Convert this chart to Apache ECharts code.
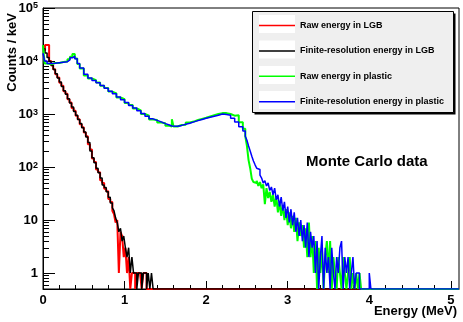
<!DOCTYPE html>
<html>
<head>
<meta charset="utf-8">
<script src="https://cdn.jsdelivr.net/npm/echarts@6/dist/echarts.min.js"></script>
<style>
  html, body { margin: 0; padding: 0; background: #fff; }
  #chart { width: 463px; height: 322px; }
</style>
</head>
<body>
<div id="chart"></div>
<script>
// ---- data: bin low edges (MeV) and counts / keV ----
const X_MAX = 5.1;
const Y_MIN = 0.5;
const Y_MAX = 100000;

function binEdges(start, width, n) {
  const out = [];
  for (let i = 0; i < n; i++) out.push(+(start + i * width).toFixed(3));
  return out;
}

// LGB: 0.025 MeV bins up to 0.85, then 0.02 MeV bins in the tail
const lgbBlackBody = [17000, 14100, 11700, 9800, 8300, 6900, 5750, 4800, 4000, 3300,
  2750, 2350, 1950, 1620, 1350, 1120, 950, 790, 660, 550,
  460, 370, 290, 200, 150, 120, 95, 78, 62, 46,
  41, 34, 27, 21, 17];
const lgbBlackTail = [15, 11, 9, 6, 7, 4, 5, 3, 2, 3,
  1, 2, 1, 1, 0, 1, 1, 0, 1, 1,
  0, 1, 0, 1, 0, 0, 0, 0];
const lgbRedBody = [16000, 20000, 20000, 10000, 8200, 7000, 5600, 4900, 3900, 3400,
  2700, 2400, 1900, 1650, 1300, 1150, 930, 800, 640, 560,
  450, 380, 270, 215, 145, 125, 90, 80, 56, 50,
  39, 35, 25, 22, 15];
const lgbRedTail = [13, 9, 10, 1, 6, 5, 2, 3, 1, 2,
  0, 1, 1, 0, 1, 1, 1, 0, 1, 1,
  0, 0, 0, 0, 0, 0, 0, 0];
const lgbEdges = binEdges(0, 0.025, lgbBlackBody.length)
  .concat(binEdges(0.87, 0.02, lgbBlackTail.length));

// plastic: uneven bins in the body, 0.02 MeV bins from 2.60 on
const plasticBodyEdges = [0, 0.02, 0.05, 0.10, 0.15, 0.20, 0.25, 0.30, 0.33, 0.36,
  0.39, 0.42, 0.45, 0.50, 0.55, 0.60, 0.65, 0.70, 0.75, 0.80,
  0.85, 0.90, 0.95, 1.00, 1.05, 1.10, 1.15, 1.20, 1.25, 1.30,
  1.35, 1.40, 1.45, 1.50, 1.55, 1.58, 1.60, 1.65, 1.70, 1.75,
  1.80, 1.85, 1.90, 1.95, 2.00, 2.05, 2.10, 2.15, 2.20, 2.25,
  2.30, 2.35, 2.40, 2.45, 2.48, 2.50, 2.52, 2.54, 2.56, 2.58];
const blueBody = [14000, 10000, 9000, 9100, 9300, 9500, 9700, 10500, 11500, 12300,
  11000, 9000, 7400, 5600, 4800, 4300, 3900, 3450, 3050, 2700,
  2400, 2100, 1850, 1650, 1450, 1300, 1150, 1020, 910, 810,
  760, 710, 660, 620, 595, 590, 590, 610, 640, 670,
  710, 750, 790, 830, 870, 910, 950, 1000, 980, 950,
  830, 710, 575, 480, 380, 320, 250, 200, 160, 130];
const greenBody = [20000, 9000, 8700, 9200, 9200, 9600, 9800, 10800, 12000, 13500,
  11200, 8800, 7200, 5300, 4700, 4350, 3950, 3400, 3100, 2650,
  2450, 2050, 1900, 1620, 1480, 1270, 1170, 1000, 930, 790,
  770, 690, 670, 600, 580, 800, 580, 620, 630, 690,
  720, 770, 810, 850, 900, 950, 1000, 1040, 1040, 1000,
  930, 950, 700, 530, 380, 250, 135, 95, 60, 52];
const blueTail = [110, 95, 90, 70, 62, 50, 55, 44, 50, 36,
  42, 30, 40, 24, 30, 18, 27, 15, 22, 11,
  18, 9, 16, 8, 14, 6, 11, 5, 10, 4,
  8, 3, 9, 2, 6, 3, 5, 1, 4, 0,
  2, 5, 0, 3, 1, 2, 0, 3, 1, 0,
  2, 1, 3, 4, 0, 2, 1, 2, 0, 1,
  2, 0, 1, 1, 0, 0, 0, 0, 0, 0,
  1, 0, 0, 0, 0, 0];
const greenTail = [50, 55, 44, 52, 40, 47, 20, 40, 26, 34,
  22, 30, 18, 28, 14, 22, 12, 19, 10, 16,
  8, 14, 7, 12, 6, 11, 4, 9, 5, 8,
  3, 7, 2, 9, 2, 5, 1, 4, 0, 3,
  1, 3, 0, 2, 4, 1, 4, 0, 2, 1,
  0, 2, 1, 0, 2, 1, 0, 1, 2, 0,
  1, 0, 1, 0, 1, 0, 0, 0, 0, 0,
  0, 0, 0, 0, 0, 0];
const plasticEdges = plasticBodyEdges.concat(binEdges(2.60, 0.02, blueTail.length));

const legendNames = [
  'Raw energy in LGB',
  'Finite-resolution energy in LGB',
  'Raw energy in plastic',
  'Finite-resolution energy in plastic'
];

const xMajor = [0, 1, 2, 3, 4, 5];
const xMinor = [];
for (let i = 1; i <= 25; i++) if (i % 5 !== 0) xMinor.push(+(i * 0.2).toFixed(1));
const yMajor = [1, 10, 100, 1000, 10000, 100000];
const yMinor = [];
[0.1, 1, 10, 100, 1000, 10000].forEach(d => {
  for (let m = 2; m <= 9; m++) {
    const v = +(m * d).toPrecision(2);
    if (v >= Y_MIN && v <= Y_MAX) yMinor.push(v);
  }
});

// ---- chart ----
const FONT = 'Liberation Sans, Arial, sans-serif';
const chart = echarts.init(document.getElementById('chart'), null, { renderer: 'canvas' });

function histSeries(name, edges, counts, color, width) {
  // empty bins sit on the axis floor, as ROOT draws them on a log scale
  const data = edges.concat([X_MAX]).map((e, i) => {
    const c = i < counts.length ? counts[i] : 0;
    return [e, c > 0 ? c : Y_MIN];
  });
  return {
    name: name,
    type: 'line',
    step: 'end',
    symbol: 'none',
    silent: true,
    data: data,
    lineStyle: { color: color, width: width },
    itemStyle: { color: color }
  };
}

const tickStyle = { color: '#000', width: 1 };

const option = {
  animation: false,
  backgroundColor: '#fff',
  grid: {
    left: 43, right: 4, top: 8, bottom: 33,
    show: true, borderColor: '#000', borderWidth: 1
  },
  xAxis: [
    {
      type: 'value', min: 0, max: X_MAX,
      axisLine: { lineStyle: tickStyle },
      axisTick: { inside: true, length: 8, customValues: xMajor, lineStyle: tickStyle },
      axisLabel: {
        customValues: xMajor, margin: 5, color: '#000',
        fontFamily: FONT, fontWeight: 'bold', fontSize: 13
      },
      splitLine: { show: false }
    },
    {
      type: 'value', min: 0, max: X_MAX, position: 'bottom',
      axisLine: { show: false },
      axisTick: { inside: true, length: 4, customValues: xMinor, lineStyle: tickStyle },
      axisLabel: { show: false },
      splitLine: { show: false }
    }
  ],
  yAxis: [
    {
      type: 'log', logBase: 10, min: Y_MIN, max: Y_MAX,
      axisLine: { show: true, lineStyle: tickStyle },
      axisTick: { show: true, inside: true, length: 12, customValues: yMajor, lineStyle: tickStyle },
      axisLabel: {
        customValues: yMajor, margin: 5, color: '#000',
        formatter: v => {
          const e = Math.round(Math.log10(v));
          return e < 2 ? '{b|' + v + '}' : '{b|10}{s|' + e + '}';
        },
        rich: {
          b: { fontFamily: FONT, fontWeight: 'bold', fontSize: 13, color: '#000' },
          s: { fontFamily: FONT, fontWeight: 'bold', fontSize: 9, color: '#000', verticalAlign: 'top' }
        }
      },
      splitLine: { show: false }
    },
    {
      type: 'log', logBase: 10, min: Y_MIN, max: Y_MAX, position: 'left',
      axisLine: { show: false },
      axisTick: { show: true, inside: true, length: 6, customValues: yMinor, lineStyle: tickStyle },
      axisLabel: { show: false },
      splitLine: { show: false }
    }
  ],
  legend: {
    orient: 'vertical',
    left: 259, top: 19.5,
    data: legendNames,
    icon: 'rect',
    itemWidth: 36, itemHeight: 1.5,
    itemGap: 13.4,
    itemTextGap: 7,
    padding: 0,
    selectedMode: false,
    textStyle: { fontFamily: FONT, fontWeight: 'bold', fontSize: 9, color: '#000', lineHeight: 12 }
  },
  graphic: [
    // legend box: shadow, frame, white sample boxes
    { type: 'rect', z: 1, shape: { x: 254.5, y: 13.5, width: 201, height: 101 }, style: { fill: '#000' } },
    { type: 'rect', z: 1, shape: { x: 252.5, y: 11.5, width: 201, height: 101 }, style: { fill: '#efefef', stroke: '#000', lineWidth: 1 } },
    { type: 'rect', z: 1, shape: { x: 259, y: 15, width: 36, height: 18 }, style: { fill: '#fff' } },
    { type: 'rect', z: 1, shape: { x: 259, y: 40.5, width: 36, height: 18 }, style: { fill: '#fff' } },
    { type: 'rect', z: 1, shape: { x: 259, y: 66, width: 36, height: 18 }, style: { fill: '#fff' } },
    { type: 'rect', z: 1, shape: { x: 259, y: 91, width: 36, height: 18 }, style: { fill: '#fff' } },
    {
      type: 'text', x: 12, y: 13, rotation: Math.PI / 2,
      style: { text: 'Counts / keV', font: 'bold 13px ' + FONT, fill: '#000',
        align: 'right', textAlign: 'right', verticalAlign: 'middle', textVerticalAlign: 'middle' }
    },
    {
      type: 'text', x: 457, y: 311.5,
      style: { text: 'Energy (MeV)', font: 'bold 13px ' + FONT, fill: '#000',
        align: 'right', textAlign: 'right', verticalAlign: 'middle', textVerticalAlign: 'middle' }
    },
    {
      type: 'text', x: 306, y: 162,
      style: { text: 'Monte Carlo data', font: 'bold 15px ' + FONT, fill: '#000',
        align: 'left', textAlign: 'left', verticalAlign: 'middle', textVerticalAlign: 'middle' }
    }
  ],
  series: [
    histSeries(legendNames[0], lgbEdges, lgbRedBody.concat(lgbRedTail), '#ff0000', 2),
    histSeries(legendNames[1], lgbEdges, lgbBlackBody.concat(lgbBlackTail), '#000000', 1.5),
    histSeries(legendNames[2], plasticEdges, greenBody.concat(greenTail), '#00ff00', 2),
    histSeries(legendNames[3], plasticEdges, blueBody.concat(blueTail), '#0000ff', 1.5)
  ]
};

chart.setOption(option);
</script>
</body>
</html>
